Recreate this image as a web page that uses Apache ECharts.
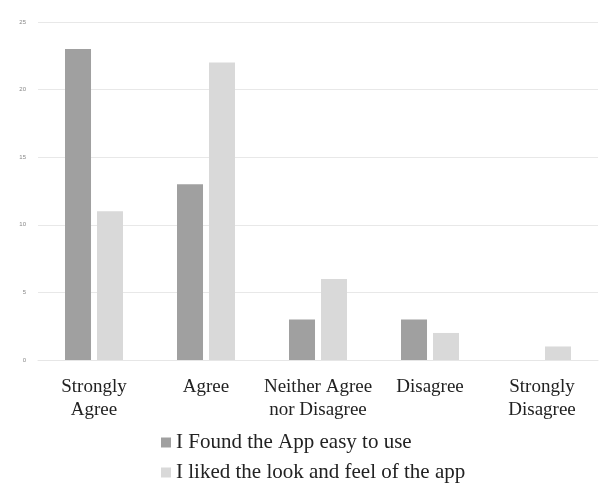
<!DOCTYPE html>
<html><head><meta charset="utf-8">
<script src="https://cdn.jsdelivr.net/npm/echarts@6/dist/echarts.min.js"></script>
<style>html,body{margin:0;padding:0;background:#fff}#c{width:599px;height:483px}</style>
</head><body><div id="c"></div>
<script>
const categories = ["Strongly\nAgree", "Agree", "Neither Agree\nnor Disagree", "Disagree", "Strongly\nDisagree"];
const seriesNames = ["I Found the App easy to use", "I liked the look and feel of the app"];
const easyToUse = [23, 13, 3, 3, 0];
const lookAndFeel = [11, 22, 6, 2, 1];
const yTicks = [0, 5, 10, 15, 20, 25];

const chart = echarts.init(document.getElementById('c'), null, {renderer: 'canvas'});
chart.setOption({
  animation: false,
  backgroundColor: '#ffffff',
  color: ['#a0a0a0', '#d9d9d9'],
  grid: {left: 38, top: 22, width: 560, height: 338, containLabel: false},
  legend: {
    orient: 'vertical', left: 161, top: 432, height: 60, itemGap: 9, padding: 0,
    itemWidth: 10, itemHeight: 10, icon: 'rect',
    textStyle: {fontFamily: 'Liberation Serif', fontSize: 21, color: '#222'},
    data: seriesNames
  },
  xAxis: {
    type: 'category', data: categories,
    axisLine: {show: true, lineStyle: {color: '#e6e6e6'}},
    axisTick: {show: false},
    axisLabel: {fontFamily: 'Liberation Serif', fontSize: 19, color: '#222', lineHeight: 23, margin: 16, interval: 0}
  },
  yAxis: {
    type: 'value', min: 0, max: 25, interval: 5,
    axisLine: {show: false}, axisTick: {show: false},
    axisLabel: {fontSize: 6, color: '#888', margin: 12,
      formatter: v => yTicks.includes(v) ? String(v) : ''},
    splitLine: {lineStyle: {color: '#e8e8e8'}}
  },
  series: [
    {name: seriesNames[0], type: 'bar', data: easyToUse, barWidth: 26, barGap: '23%'},
    {name: seriesNames[1], type: 'bar', data: lookAndFeel, barWidth: 26, barGap: '23%'}
  ]
});
</script></body></html>
